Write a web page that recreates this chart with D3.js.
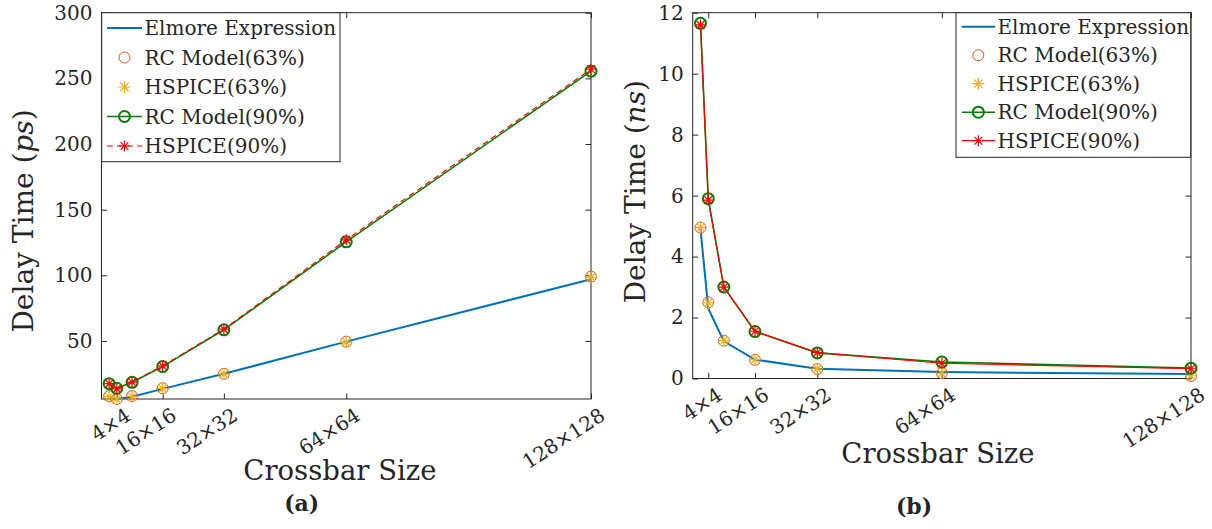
<!DOCTYPE html>
<html>
<head>
<meta charset="utf-8">
<script src="https://cdn.jsdelivr.net/npm/d3@7"></script>
<style>
  body { margin: 0; background: #fff; }
  svg { display: block; }
  text { font-family: "DejaVu Serif", serif; fill: #262626; }
  .tick line { stroke: #262626; }
  .tick text { font-size: 19.5px; }
</style>
</head>
<body>
<svg id="chart" width="1212" height="529"></svg>
<script>
// crossbar sizes N (N x N)
var sizes = [2, 4, 8, 16, 32, 64, 128];
var xTicks = [4, 16, 32, 64, 128];
var xTickLabels = ["4×4", "16×16", "32×32", "64×64", "128×128"];

// (a) delay in ps
var elmoreA = [6.3, 5.8, 7.5, 13.5, 25, 49.5, 97];
var rc63A   = [8, 5.8, 8, 14, 25, 49.5, 99];
var hsp63A  = [7.6, 5.8, 7.8, 13.8, 24.8, 49, 98.5];
var rc90A   = [17.5, 14, 18.5, 30.5, 58.5, 125.5, 255.5];
var hsp90A  = [17.5, 13.5, 18.7, 31, 59, 127, 257];
var yTicksA = [50, 100, 150, 200, 250, 300];

// (b) delay in ns
var elmoreB = [4.9, 2.3, 1.22, 0.62, 0.32, 0.21, 0.15];
var rc63B   = [4.95, 2.5, 1.24, 0.61, 0.31, 0.18, 0.08];
var hsp63B  = [4.95, 2.48, 1.24, 0.62, 0.32, 0.17, 0.09];
var rc90B   = [11.65, 5.9, 3.0, 1.54, 0.84, 0.54, 0.34];
var hsp90B  = [11.6, 5.85, 3.0, 1.55, 0.85, 0.5, 0.32];
var yTicksB = [0, 2, 4, 6, 8, 10, 12];

var legendNames = ["Elmore Expression", "RC Model(63%)", "HSPICE(63%)", "RC Model(90%)", "HSPICE(90%)"];

var blue = "#0072BD", orange = "#D95319", yellow = "#EDB120", green = "#008000", red = "#FF0000";

var svg = d3.select("#chart");

// star marker path (plus + cross)
function starPath(r) {
  var d = r * 0.7071;
  return "M" + (-r) + ",0H" + r + "M0," + (-r) + "V" + r +
         "M" + (-d) + "," + (-d) + "L" + d + "," + d +
         "M" + (-d) + "," + d + "L" + d + "," + (-d);
}

var drawPanel = function(p) {
  var x = d3.scaleLinear().domain([0, 128]).range(p.xr);
  var y = d3.scaleLinear().domain(p.yd).range(p.yr);
  var g = svg.append("g");

  var left = p.xr[0], right = p.xr[1], top = p.yr[1], bottom = p.yr[0];

  // box
  g.append("rect")
    .attr("x", left).attr("y", top)
    .attr("width", right - left).attr("height", bottom - top)
    .attr("fill", "none").attr("stroke", "#262626").attr("stroke-width", 1);

  // y axis left
  var ya = g.append("g")
    .attr("transform", "translate(" + left + ",0)")
    .call(d3.axisLeft(y).tickValues(p.yTicks).tickSize(-5.5).tickPadding(9).tickSizeOuter(0));
  ya.select(".domain").remove();
  ya.selectAll("text").style("font-size", "20px");

  // y axis right ticks
  var yb = g.append("g")
    .attr("transform", "translate(" + right + ",0)")
    .call(d3.axisRight(y).tickValues(p.yTicks).tickSize(-5.5).tickFormat(""));
  yb.select(".domain").remove();

  // x axis bottom
  var xa = g.append("g")
    .attr("transform", "translate(0," + bottom + ")")
    .call(d3.axisBottom(x).tickValues(xTicks).tickSize(-5.5)
      .tickFormat(function(d, i) { return xTickLabels[i]; }));
  xa.select(".domain").remove();
  xa.selectAll("text")
    .attr("y", null)
    .attr("dy", "0.35em")
    .style("text-anchor", "end")
    .style("font-size", "20px")
    .attr("transform", "translate(11,14) rotate(-33)");

  // x axis top ticks
  var xt = g.append("g")
    .attr("transform", "translate(0," + top + ")")
    .call(d3.axisTop(x).tickValues(xTicks).tickSize(-5.5).tickFormat(""));
  xt.select(".domain").remove();

  var line = d3.line()
    .x(function(d, i) { return x(sizes[i]); })
    .y(function(d) { return y(d); });

  // Elmore
  g.append("path").attr("d", line(p.elmore))
    .attr("fill", "none").attr("stroke", blue).attr("stroke-width", 2);

  // RC 63%
  g.selectAll(".rc63").data(p.rc63).enter().append("circle")
    .attr("cx", function(d, i) { return x(sizes[i]); })
    .attr("cy", function(d) { return y(d); })
    .attr("r", 5.5).attr("fill", "none").attr("stroke", orange).attr("stroke-width", 1);

  // HSPICE 63%
  g.selectAll(".hsp63").data(p.hsp63).enter().append("path")
    .attr("transform", function(d, i) { return "translate(" + x(sizes[i]) + "," + y(d) + ")"; })
    .attr("d", starPath(6)).attr("fill", "none").attr("stroke", yellow).attr("stroke-width", 1.2);

  // RC 90%
  g.append("path").attr("d", line(p.rc90))
    .attr("fill", "none").attr("stroke", green).attr("stroke-width", 1.6);
  g.selectAll(".rc90").data(p.rc90).enter().append("circle")
    .attr("cx", function(d, i) { return x(sizes[i]); })
    .attr("cy", function(d) { return y(d); })
    .attr("r", 5.5).attr("fill", "none").attr("stroke", green).attr("stroke-width", 2);

  // HSPICE 90%
  g.append("path").attr("d", line(p.hsp90))
    .attr("fill", "none").attr("stroke", red).attr("stroke-width", 1.2)
    .attr("stroke-dasharray", p.dashed ? "6,4" : null);
  g.selectAll(".hsp90").data(p.hsp90).enter().append("path")
    .attr("transform", function(d, i) { return "translate(" + x(sizes[i]) + "," + y(d) + ")"; })
    .attr("d", starPath(5.5)).attr("fill", "none").attr("stroke", red).attr("stroke-width", 1.2);

  // legend
  var L = p.legend;
  var lg = g.append("g");
  lg.append("rect")
    .attr("x", L.x).attr("y", L.y).attr("width", L.w).attr("height", L.h)
    .attr("fill", "#fff").attr("stroke", "#262626").attr("stroke-width", 1);
  var cx = (L.x1 + L.x2) / 2;
  legendNames.forEach(function(name, i) {
    var ry = L.row0 + i * L.step;
    if (i == 0) {
      lg.append("line").attr("x1", L.x1).attr("x2", L.x2).attr("y1", ry).attr("y2", ry)
        .attr("stroke", blue).attr("stroke-width", 2);
    } else if (i == 1) {
      lg.append("circle").attr("cx", cx).attr("cy", ry).attr("r", 5.5)
        .attr("fill", "none").attr("stroke", orange);
    } else if (i == 2) {
      lg.append("path").attr("transform", "translate(" + cx + "," + ry + ")")
        .attr("d", starPath(6)).attr("fill", "none").attr("stroke", yellow).attr("stroke-width", 1.2);
    } else if (i == 3) {
      lg.append("line").attr("x1", L.x1).attr("x2", L.x2).attr("y1", ry).attr("y2", ry)
        .attr("stroke", green).attr("stroke-width", 1.6);
      lg.append("circle").attr("cx", cx).attr("cy", ry).attr("r", 5.5)
        .attr("fill", "none").attr("stroke", green).attr("stroke-width", 2);
    } else {
      lg.append("line").attr("x1", L.x1).attr("x2", L.x2).attr("y1", ry).attr("y2", ry)
        .attr("stroke", red).attr("stroke-width", 1.2)
        .attr("stroke-dasharray", p.dashed ? "6,4" : null);
      lg.append("path").attr("transform", "translate(" + cx + "," + ry + ")")
        .attr("d", starPath(5.5)).attr("fill", "none").attr("stroke", red).attr("stroke-width", 1.2);
    }
    lg.append("text").attr("x", L.tx).attr("y", ry).attr("dy", "0.35em")
      .style("font-size", "20px").text(name);
  });

  // y label
  var yl = g.append("text")
    .attr("transform", "translate(" + p.ylab[0] + "," + p.ylab[1] + ") rotate(-90)")
    .style("text-anchor", "middle").style("font-size", "28px");
  yl.append("tspan").text("Delay Time (");
  yl.append("tspan").style("font-style", "italic").text(p.unit);
  yl.append("tspan").text(")");

  // x label
  g.append("text").attr("x", p.xlab[0]).attr("y", p.xlab[1])
    .style("text-anchor", "middle").style("font-size", "27.5px").text("Crossbar Size");

  // caption
  g.append("text").attr("x", p.cap[0]).attr("y", p.cap[1])
    .style("text-anchor", "middle").style("font-size", "22px").style("font-weight", "bold")
    .text(p.caption);
};

drawPanel({
  xr: [101.5, 591], yr: [399, 12.7], yd: [5.8, 300], yTicks: yTicksA,
  elmore: elmoreA, rc63: rc63A, hsp63: hsp63A, rc90: rc90A, hsp90: hsp90A,
  dashed: true, unit: "ps",
  legend: { x: 101.7, y: 12.7, w: 238.3, h: 149, row0: 28, step: 29.5, x1: 107, x2: 142, tx: 144.5 },
  ylab: [33, 221], xlab: [340, 480], cap: [301.7, 511], caption: "(a)"
});

drawPanel({
  xr: [692.7, 1191], yr: [378.5, 12.7], yd: [0, 12], yTicks: yTicksB,
  elmore: elmoreB, rc63: rc63B, hsp63: hsp63B, rc90: rc90B, hsp90: hsp90B,
  dashed: false, unit: "ns",
  legend: { x: 956, y: 12.7, w: 234.7, h: 144.6, row0: 26.7, step: 28.5, x1: 961.7, x2: 995, tx: 997.5 },
  ylab: [645, 191.7], xlab: [938, 463], cap: [914, 514], caption: "(b)"
});
</script>
</body>
</html>
